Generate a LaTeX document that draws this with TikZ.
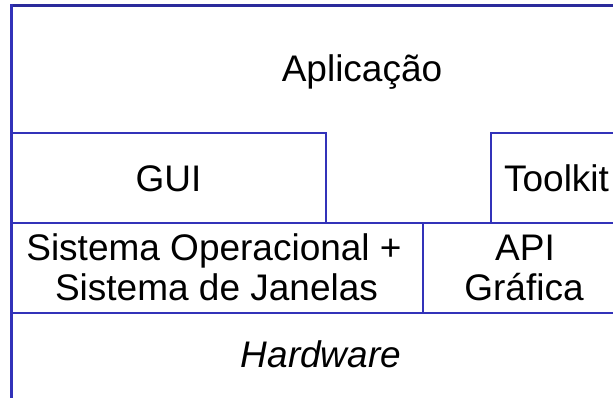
\documentclass[tikz,border=0pt]{standalone}
\usepackage{fontspec}
\setmainfont{Liberation Sans}
\definecolor{layerline}{RGB}{50,50,185}
\definecolor{topline}{RGB}{42,42,155}
\begin{document}
\begin{tikzpicture}[x=1pt,y=-1pt,
  rule/.style={draw=layerline,line width=2.8pt},
  toprule/.style={draw=topline,line width=3.4pt},
  label/.style={inner sep=0pt,anchor=base,font=\fontsize{37}{40}\selectfont}]
\useasboundingbox (0,0) rectangle (613,398);
% layer outlines
\draw[toprule] (11,5.5) -- (624,5.5);
\draw[rule,line width=3pt] (11,4) -- (11,410);
\draw[rule] (11,133) -- (326,133) -- (326,223);
\draw[rule] (624,133) -- (491,133) -- (491,223);
\draw[rule] (11,223) -- (624,223);
\draw[rule] (423,223) -- (423,313);
\draw[rule] (11,313) -- (624,313);
% layer names
\node[label] (app) at (362,82) {Aplicação};
\node[label] (gui) at (168.5,192) {GUI};
\node[label] (toolkit) at (556.5,192) {Toolkit};
\node[label] (so1) at (214,260) {Sistema Operacional +};
\node[label] (so2) at (216.5,300) {Sistema de Janelas};
\node[label] (api1) at (525,260) {API};
\node[label] (api2) at (524,300) {Gráfica};
\node[label,font=\fontsize{37}{40}\selectfont\itshape] (hw) at (321,367) {Hardware};
\end{tikzpicture}
\end{document}
